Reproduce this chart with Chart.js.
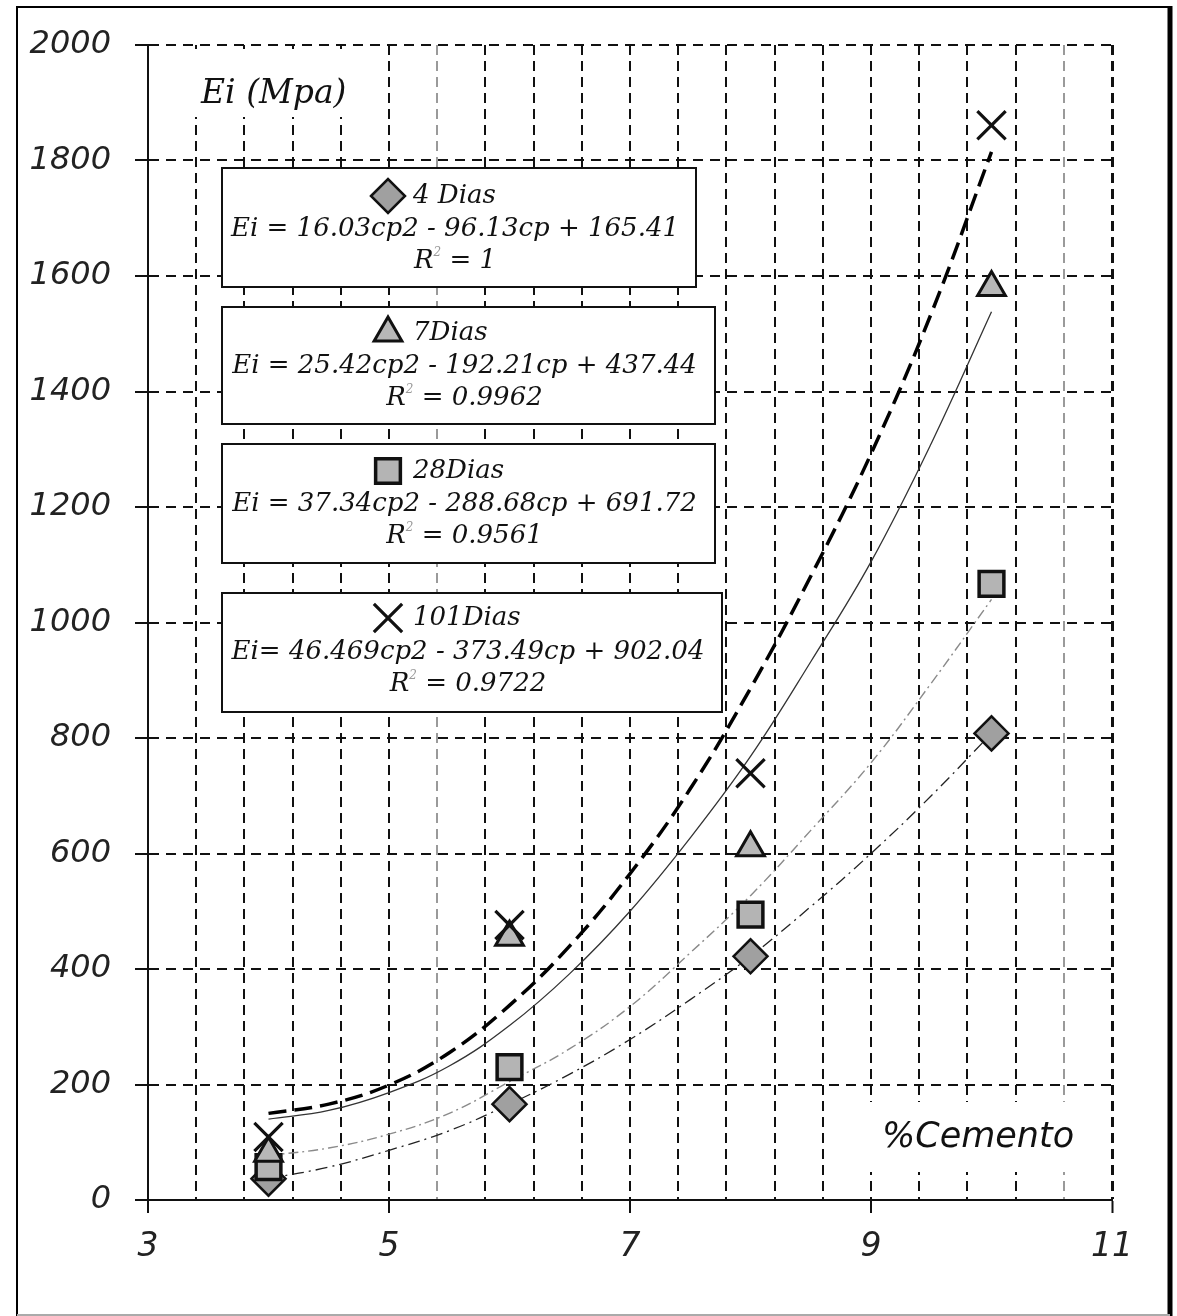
<!DOCTYPE html>
<html>
<head>
<meta charset="utf-8">
<script src="https://cdn.jsdelivr.net/npm/chart.js@4.4.1/dist/chart.umd.min.js"></script>
<style>
html, body { margin: 0; padding: 0; background: #fff; }
#wrap { width: 1177px; height: 1316px; }
</style>
</head>
<body>
<div id="wrap"><canvas id="myChart" width="1177" height="1316"></canvas></div>
<script>
// measured points (% cemento vs Ei in MPa)
const cemento = [4, 6, 8, 10];
const dias4 = [37, 166, 422, 808];
const dias7 = [81, 455, 610, 1580];
const dias28 = [57, 230, 494, 1067];
const dias101 = [109, 476, 739, 1861];

// trend lines
const trendX = [4, 4.5, 5, 5.5, 6, 6.5, 7, 7.5, 8, 8.5, 9, 9.5, 10];
const trend4 = [37, 57, 86, 120, 166, 218, 278, 347, 422, 508, 600, 700, 808];
const trend7 = [140, 155, 186, 232, 302, 392, 500, 627, 768, 932, 1105, 1310, 1538];
const trend28 = [77, 90, 114, 150, 205, 262, 335, 428, 527, 640, 757, 895, 1040];
const trend101 = [150, 166, 199, 255, 337, 440, 565, 712, 886, 1080, 1292, 1535, 1815];

const seriesNames = ['4 Dias', '7Dias', '28Dias', '101Dias'];
const equations = [
    'Ei = 16.03cp2 - 96.13cp + 165.41',
    'Ei = 25.42cp2 - 192.21cp + 437.44',
    'Ei = 37.34cp2 - 288.68cp + 691.72',
    'Ei= 46.469cp2 - 373.49cp + 902.04'
];
const r2Values = ['1', '0.9962', '0.9561', '0.9722'];
const xLabels = [3, 5, 7, 9, 11];
const xLightGrid = [5.4, 10.6];

function pts(xs, ys) {
    return xs.map((x, i) => ({ x: x, y: ys[i] }));
}
function near(a, b) { return Math.abs(a - b) < 1e-6; }

// marker looks, shared by plot and the equation boxes
const markers = [
    { pointStyle: 'rectRot', radius: 17, fill: '#a0a0a0', width: 2.5 },
    { pointStyle: 'triangle', radius: 16, fill: '#b8b8b8', width: 3 },
    { pointStyle: 'rect', radius: 17.5, fill: '#b4b4b4', width: 3.5 },
    { pointStyle: 'crossRot', radius: 20, fill: '#111', width: 3.2 }
];

// equation boxes (pixel layout of the annotation panels)
const boxes = [
    { x1: 222, y1: 168, x2: 696, y2: 287, rows: [196, 229, 261] },
    { x1: 222, y1: 307, x2: 715, y2: 424, rows: [333, 366, 398] },
    { x1: 222, y1: 444, x2: 715, y2: 563, rows: [471, 504, 536] },
    { x1: 222, y1: 593, x2: 722, y2: 712, rows: [618, 652, 684] }
];

const serif = "'DejaVu Serif', 'Liberation Serif', serif";

const boxPlugin = {
    id: 'eqboxes',
    beforeDatasetsDraw(chart) {
        const ctx = chart.ctx;
        ctx.save();
        // axis titles sit on white patches over the grid
        ctx.fillStyle = '#fff';
        ctx.fillRect(188, 49, 184, 68);
        ctx.fillRect(862, 1102, 226, 70);
        ctx.fillStyle = '#111';
        ctx.textBaseline = 'middle';
        ctx.textAlign = 'left';
        ctx.font = "italic 33px " + serif;
        ctx.fillText('Ei (Mpa)', 201, 94);
        ctx.font = "italic 35px 'DejaVu Sans', sans-serif";
        ctx.fillText('%Cemento', 882, 1138);

        boxes.forEach((b, i) => {
            ctx.fillStyle = '#fff';
            ctx.fillRect(b.x1, b.y1, b.x2 - b.x1, b.y2 - b.y1);
            ctx.lineWidth = 2;
            ctx.strokeStyle = '#111';
            ctx.strokeRect(b.x1, b.y1, b.x2 - b.x1, b.y2 - b.y1);
            const cx = (b.x1 + b.x2) / 2 - 4;

            // marker + name
            const m = markers[i];
            ctx.fillStyle = m.fill;
            ctx.strokeStyle = '#111';
            ctx.lineWidth = m.width;
            Chart.helpers.drawPoint(ctx, { pointStyle: m.pointStyle, radius: m.radius, rotation: 0, borderWidth: m.width }, 388, b.rows[0]);
            ctx.fillStyle = '#111';
            ctx.font = "italic 26px " + serif;
            ctx.textAlign = 'left';
            ctx.fillText(seriesNames[i], 413, b.rows[0]);

            // equation
            ctx.textAlign = 'center';
            ctx.fillText(equations[i], cx, b.rows[1]);

            // R² line
            ctx.textAlign = 'left';
            const rest = ' = ' + r2Values[i];
            const wR = ctx.measureText('R').width;
            const wRest = ctx.measureText(rest).width;
            ctx.font = "italic 12px " + serif;
            const w2 = ctx.measureText('2').width;
            let x = cx - (wR + w2 + wRest) / 2;
            ctx.font = "italic 26px " + serif;
            ctx.fillText('R', x, b.rows[2]);
            ctx.font = "italic 12px " + serif;
            ctx.fillStyle = '#999';
            ctx.fillText('2', x + wR, b.rows[2] - 8);
            ctx.fillStyle = '#111';
            ctx.font = "italic 26px " + serif;
            ctx.fillText(rest, x + wR + w2, b.rows[2]);
        });
        ctx.restore();
    },
    afterDraw(chart) {
        const ctx = chart.ctx;
        ctx.save();
        ctx.strokeStyle = '#000';
        ctx.lineWidth = 2;
        ctx.beginPath();
        ctx.moveTo(17, 1316);
        ctx.lineTo(17, 7);
        ctx.lineTo(1170, 7);
        ctx.stroke();
        ctx.lineWidth = 5;
        ctx.beginPath();
        ctx.moveTo(1170, 6);
        ctx.lineTo(1170, 1316);
        ctx.stroke();
        ctx.strokeStyle = '#aaa';
        ctx.lineWidth = 2;
        ctx.beginPath();
        ctx.moveTo(17, 1315);
        ctx.lineTo(1170, 1315);
        ctx.stroke();
        ctx.restore();
    }
};

function pointSet(label, ys, m) {
    return {
        label: label,
        data: pts(cemento, ys),
        showLine: false,
        pointStyle: m.pointStyle,
        pointRadius: m.radius,
        pointBackgroundColor: m.fill,
        pointBorderColor: '#111',
        pointBorderWidth: m.width
    };
}
function trendSet(ys, color, width, dash) {
    return {
        data: pts(trendX, ys),
        showLine: true,
        pointRadius: 0,
        borderColor: color,
        borderWidth: width,
        borderDash: dash,
        tension: 0.4,
        fill: false
    };
}

const ctx = document.getElementById('myChart').getContext('2d');
const myChart = new Chart(ctx, {
    type: 'scatter',
    data: {
        datasets: [
            pointSet(seriesNames[3], dias101, markers[3]),
            pointSet(seriesNames[1], dias7, markers[1]),
            pointSet(seriesNames[2], dias28, markers[2]),
            pointSet(seriesNames[0], dias4, markers[0]),
            trendSet(trend101, '#000', 3.5, [18, 8]),
            trendSet(trend7, '#333', 1.3, []),
            trendSet(trend28, '#8a8a8a', 1.4, [10, 4, 2, 4]),
            trendSet(trend4, '#222', 1.3, [12, 5, 2, 5])
        ]
    },
    options: {
        responsive: false,
        devicePixelRatio: 1,
        animation: false,
        layout: { padding: { left: 28, top: 45, right: 65, bottom: 16 } },
        plugins: {
            legend: { display: false },
            tooltip: { enabled: false }
        },
        scales: {
            x: {
                type: 'linear',
                min: 3,
                max: 11,
                afterFit: (scale) => { scale.height = 100; },
                ticks: {
                    stepSize: 0.4,
                    autoSkip: false,
                    maxRotation: 0,
                    padding: 15,
                    color: '#222',
                    font: { family: "'DejaVu Sans'", style: 'italic', size: 33 },
                    callback: (v) => xLabels.some(l => near(l, v)) ? String(Math.round(v)) : ''
                },
                grid: {
                    color: (c) => {
                        const v = c.tick ? c.tick.value : 0;
                        if (near(v, 3)) return 'transparent';
                        return xLightGrid.some(l => near(l, v)) ? '#9a9a9a' : '#111';
                    },
                    lineWidth: (c) => (c.tick && near(c.tick.value, 11)) ? 3 : 2,
                    tickLength: 13,
                    tickWidth: 2,
                    tickColor: (c) => (c.tick && xLabels.some(l => near(l, c.tick.value))) ? '#111' : 'transparent'
                },
                border: { display: true, color: '#111', width: 2, dash: [10, 6] }
            },
            y: {
                type: 'linear',
                min: 0,
                max: 2000,
                afterFit: (scale) => { scale.width = 120; },
                ticks: {
                    stepSize: 200,
                    padding: 24,
                    color: '#222',
                    font: { family: "'DejaVu Sans'", style: 'italic', size: 32 },
                    callback: (v) => String(v)
                },
                grid: {
                    color: '#111',
                    lineWidth: 2,
                    tickLength: 13,
                    tickWidth: 2,
                    tickColor: '#111'
                },
                border: { display: true, color: '#111', width: 2, dash: [10, 7] }
            }
        }
    },
    plugins: [boxPlugin]
});
</script>
</body>
</html>
